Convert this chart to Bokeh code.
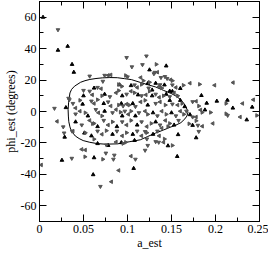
import math
from bokeh.plotting import figure
from bokeh.models import Range1d, LinearAxis, FixedTicker
from bokeh.embed import file_html
from bokeh.resources import INLINE

# ---- data ----
x_ticks = [0, 0.05, 0.1, 0.15, 0.2, 0.25]
x_tick_labels = ["0", "0.05", "0.1", "0.15", "0.2", "0.25"]
x_minor = [0.025, 0.075, 0.125, 0.175, 0.225]
y_ticks = [-60, -40, -20, 0, 20, 40, 60]
y_tick_labels = ["-60", "-40", "-20", "0", "20", "40", "60"]
y_minor = [-70, -50, -30, -10, 10, 30, 50, 70]

up_points = [
    (0.004, 60), (0.021, 39), (0.032, 41.5), (0.037, 30), (0.039, 25), (0.030, 2.5),
    (0.144, 29), (0.125, 26.5), (0.160, 14.7), (0.148, 13), (0.184, 10.2), (0.190, 5.3),
    (0.2015, 6.6), (0.2135, 7.2), (0.188, 1), (0.2197, 2.2), (0.2417, 2.8), (0.2355, -5.3),
    (0.178, -16.7), (0.1565, -28.6), (0.146, -21.8), (0.1575, -14.7), (0.171, -2),
    (0.061, -40.2), (0.107, -36.2), (0.0286, -16.3), (0.0255, -31), (0.062, -29.4),
    (0.051, -13.7), (0.091, 17), (0.128, 13.7), (0.151, 12.8), (0.078, -21.6), (0.093, -19.8),
    (0.062, 14.9), (0.104, 16.5), (0.123, 17.8), (0.142, 16.9),
    (0.050, 10), (0.074, 11), (0.094, 10), (0.112, 10.6), (0.128, 10), (0.144, 11), (0.160, 7.1),
    (0.049, 4.7), (0.073, 5.1), (0.093, 5.1), (0.106, 5.1), (0.123, 4.1), (0.148, 7.1), (0.165, 3.1),
    (0.055, -2.8), (0.074, 0.2), (0.094, -2.8), (0.109, -2.8), (0.129, -0.8), (0.150, -0.8),
    (0.041, -6.6), (0.066, -9.6), (0.088, -9.6), (0.111, -8.6), (0.132, -6.6), (0.153, -8.6),
    (0.059, -15.5), (0.083, -14.5), (0.106, -14.5), (0.129, -14.5),
    (0.066, -20.4), (0.108, -18.4), (0.132, 18), (0.174, -8.8),
]

down_points = [
    (0.021, 52), (0.017, 2), (0.034, 7.5), (0.057, 22.5), (0.099, 34.3), (0.1215, 35.3),
    (0.105, 28.4), (0.117, 29.8), (0.131, 24.9), (0.1425, 22.2), (0.138, 21.6), (0.072, 19.2),
    (0.050, 13.4), (0.027, -9.8), (0.028, -13.7), (0.037, -12.5), (0.0367, -29.8),
    (0.0754, -26.5), (0.084, -30.4), (0.0692, -47.7), (0.109, -30.4), (0.123, -21.6),
    (0.120, -24.7), (0.181, -12.7), (0.2138, -2.5), (0.041, -1.6), (0.074, 23), (0.100, 22),
    (0.033, 8.4),
    (0.066, 15.3), (0.108, 16.9), (0.124, 14.9), (0.151, 16.9),
    (0.057, 12.9), (0.080, 9.4), (0.099, 11), (0.116, 10), (0.132, 11), (0.148, 9.4),
    (0.038, 5.1), (0.059, 6.6), (0.078, 6.1), (0.095, 3.5), (0.109, 3.1), (0.132, 5.1),
    (0.151, 4.7), (0.167, 0.2),
    (0.064, 1.2), (0.083, -0.8), (0.097, 0.2), (0.113, -0.8), (0.134, -2.8), (0.155, -2.8),
    (0.048, -8.6), (0.073, -5.7), (0.094, -6.6), (0.116, -6.6), (0.137, -8.6), (0.158, -5.7),
    (0.066, -12.5), (0.088, -12.5), (0.111, -12.5), (0.134, -12.5),
    (0.076, -21.3), (0.122, -17.5),
    (0.145, 21), (0.137, 17), (0.130, 24), (0.174, -3.5), (0.180, -8.8), (0.174, 6.2),
    (0.1355, -19.6), (0.132, -19.2), (0.120, -12.8), (0.085, -27.8),
]

left_points = [
    (0.020, -6.3), (0.048, -24.1), (0.052, -24.5), (0.002, -34), (0.0817, -44.7),
    (0.090, -37.5), (0.104, -28.4), (0.199, 16.7), (0.220, 18.4), (0.2307, 5.1),
    (0.243, 7.5), (0.228, -3.5), (0.197, -7.6), (0.171, 18), (0.078, 23), (0.081, 23.3),
    (0.183, 1),
    (0.070, 14.5), (0.111, 15.3), (0.136, 15.9), (0.155, 15.3),
    (0.060, 10.6), (0.087, 11.9), (0.104, 12.9), (0.121, 10.6), (0.136, 9), (0.153, 11.9),
    (0.041, 2.2), (0.062, 5.1), (0.081, 3.5), (0.099, 4.7), (0.115, 6.1), (0.137, 6.1),
    (0.157, 4.1),
    (0.046, 0.2), (0.067, -0.8), (0.087, 1.2), (0.101, -1.8), (0.120, 0.2), (0.139, 0.2),
    (0.160, 0.2),
    (0.057, -5.7), (0.078, -8.6), (0.099, -8.6), (0.122, -9.6), (0.143, -5.7),
    (0.038, -12.5), (0.071, -14.5), (0.094, -15.5), (0.116, -15.5), (0.139, -10.6),
    (0.087, -19.4), (0.136, -15.5),
    (0.149, 20.2), (0.115, 21.6), (0.134, 25), (0.178, -3.5), (0.185, -9.4), (0.178, 6.5),
    (0.141, -19.6),
]

right_points = [
    (0.182, 17.3), (0.212, 5.1), (0.1848, -0.6), (0.1945, -0.6), (0.212, -1.4), (0.247, -2.5),
    (0.0517, -28.8), (0.072, -30.4), (0.0604, -7.8), (0.062, -17.6), (0.098, -19.6),
    (0.1327, 30), (0.125, 18.6), (0.1635, 16.7), (0.098, 22.9), (0.0936, 16),
    (0.090, 17.2), (0.116, 17.2), (0.139, 14.9),
    (0.071, 10), (0.090, 13.3), (0.108, 11.9), (0.125, 12.9), (0.141, 10), (0.157, 10),
    (0.046, 7.1), (0.066, 7.5), (0.090, 4.1), (0.102, 4.1), (0.120, 7.1), (0.143, 4.1),
    (0.162, 5.1),
    (0.052, -0.8), (0.071, -2.8), (0.092, -0.4), (0.104, 0.2), (0.123, -1.8), (0.144, -1.8),
    (0.164, -1.8),
    (0.062, -7.6), (0.083, -6.6), (0.104, -5.7), (0.127, -7.6), (0.148, -7.6),
    (0.052, -13.5), (0.076, -12.2), (0.099, -13.5), (0.122, -13.5), (0.146, -9.6),
    (0.095, -20.4), (0.142, -17.5),
    (0.151, 19.6), (0.118, 19.6), (0.178, -5.9), (0.170, -7.8), (0.181, 3.5), (0.151, -21.6),
]

contour = [
    (0.0325, 1.2), (0.0331, 5.9), (0.0346, 11.8), (0.0365, 14.1), (0.0398, 16.1),
    (0.0467, 18.6), (0.0517, 19.6), (0.0572, 20.4), (0.0642, 21.0), (0.0713, 21.4),
    (0.0800, 21.6), (0.0884, 21.5), (0.0967, 20.9), (0.1044, 20.3), (0.1146, 18.5),
    (0.1229, 17.1), (0.1320, 15.6), (0.1407, 13.5), (0.1495, 11.5), (0.1554, 9.7),
    (0.1599, 7.8), (0.1638, 5.3), (0.1664, 2.9), (0.1680, 0.9), (0.1687, -0.6),
    (0.1675, -2.9), (0.1652, -4.7), (0.1607, -7.1), (0.1545, -8.8), (0.1495, -9.8),
    (0.1408, -11.8), (0.1320, -13.7), (0.1230, -15.9), (0.1146, -18.0), (0.1027, -19.2),
    (0.0887, -20.6), (0.0747, -20.8), (0.0653, -20.4), (0.0572, -19.6), (0.0496, -18.5),
    (0.0450, -17.2), (0.0407, -15.6), (0.0380, -13.7), (0.0354, -11.2), (0.0346, -9.8),
    (0.0333, -6.5), (0.0328, -2.9), (0.0325, 1.2),
]

FONT = "Liberation Serif"

p = figure(width=268, height=252, output_backend="svg", toolbar_location=None,
           x_range=Range1d(0, 0.25), y_range=Range1d(-70, 70),
           min_border_top=1, min_border_right=9, min_border_left=2, min_border_bottom=2)
p.xgrid.visible = False
p.ygrid.visible = False
p.outline_line_color = "black"
p.background_fill_color = "white"
p.border_fill_color = "white"


def style(ax, ticks, minor, labels, show):
    ax.ticker = FixedTicker(ticks=ticks, minor_ticks=minor)
    ax.major_tick_in = 7
    ax.major_tick_out = 0
    ax.minor_tick_in = 4
    ax.minor_tick_out = 0
    ax.axis_line_color = "black"
    ax.major_tick_line_color = "black"
    ax.minor_tick_line_color = "black"
    ax.major_label_text_font = FONT
    ax.major_label_text_color = "black"
    if show:
        ax.major_label_overrides = {t: l for t, l in zip(ticks, labels)}
        ax.major_label_text_font_size = "12px"
        ax.major_label_standoff = 3
    else:
        ax.major_label_overrides = {t: "" for t in ticks}
        ax.major_label_text_font_size = "11px"
        ax.major_label_standoff = 0


style(p.xaxis[0], x_ticks, x_minor, x_tick_labels, True)
style(p.yaxis[0], y_ticks, y_minor, y_tick_labels, True)
p.xaxis[0].axis_label = "a_est"
p.yaxis[0].axis_label = "phi_est (degrees)"
for ax in (p.xaxis[0], p.yaxis[0]):
    ax.axis_label_text_font = FONT
    ax.axis_label_text_font_style = "normal"
    ax.axis_label_text_font_size = "12px"
    ax.axis_label_text_color = "black"
    ax.axis_label_standoff = 0

top = LinearAxis()
style(top, x_ticks, x_minor, x_tick_labels, False)
p.add_layout(top, "above")
right = LinearAxis()
style(right, y_ticks, y_minor, y_tick_labels, False)
p.add_layout(right, "right")

p.line([c[0] for c in contour], [c[1] for c in contour], line_color="black", line_width=1)

msize = 3.6
p.scatter([q[0] for q in up_points], [q[1] for q in up_points], marker="triangle",
          size=msize, color="black")
p.scatter([q[0] for q in down_points], [q[1] for q in down_points], marker="inverted_triangle",
          size=msize, color="#555555")
p.scatter([q[0] for q in left_points], [q[1] for q in left_points], marker="triangle",
          angle=math.pi / 2, size=msize, color="#555555")
p.scatter([q[0] for q in right_points], [q[1] for q in right_points], marker="triangle",
          angle=-math.pi / 2, size=msize, color="#555555")

open("out.html", "w").write(file_html(p, INLINE))
